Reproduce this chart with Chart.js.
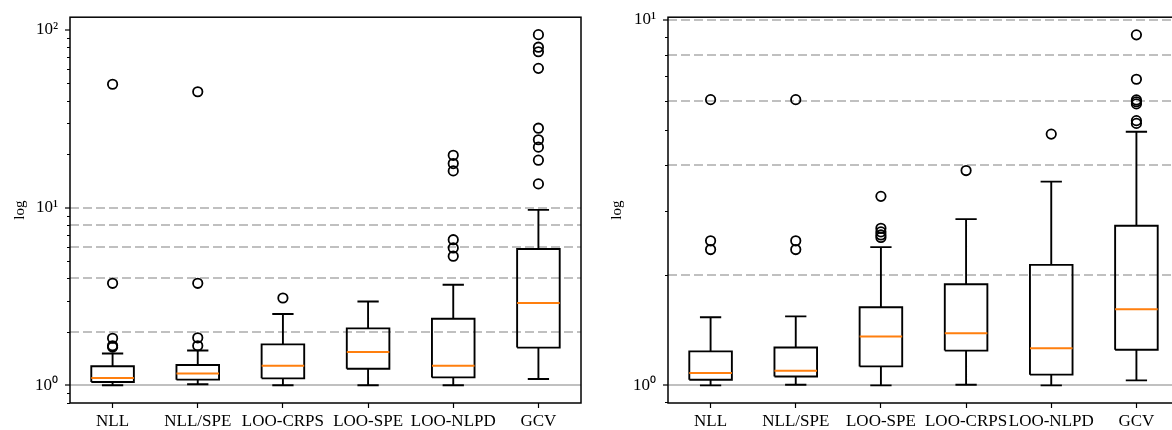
<!DOCTYPE html>
<html>
<head>
<meta charset="utf-8">
<script src="https://cdn.jsdelivr.net/npm/chart.js@4.4.0/dist/chart.umd.min.js"></script>
<style>
    html, body {
        margin: 0;
        padding: 0;
        background: #fff;
        overflow: hidden;
        width: 1172px;
        height: 430px;
    }
    #leftChart { position: absolute; left: 0; top: 0; }
    #rightChart { position: absolute; left: 590px; top: 0; }
</style>
</head>
<body>
<canvas id="leftChart" width="590" height="430"></canvas>
<canvas id="rightChart" width="600" height="430"></canvas>
<script>

// LEFT PANEL
const LEFT_CATEGORIES = ["NLL", "NLL/SPE", "LOO-CRPS", "LOO-SPE", "LOO-NLPD", "GCV"]
const LEFT_WHISKER_LOW = [1.0, 1.013, 1.0, 1.0, 1.0, 1.085]
const LEFT_Q1 = [1.044, 1.076, 1.094, 1.239, 1.108, 1.63]
const LEFT_MEDIAN = [1.10, 1.167, 1.29, 1.54, 1.29, 2.91]
const LEFT_Q3 = [1.28, 1.30, 1.70, 2.09, 2.37, 5.85]
const LEFT_WHISKER_HIGH = [1.51, 1.57, 2.52, 2.96, 3.68, 9.71]
const LEFT_OUTLIERS = [
    [49.5, 3.75, 1.84, 1.67, 1.64],
    [44.9, 3.75, 1.85, 1.67],
    [3.10],
    [],
    [19.7, 17.7, 16.1, 6.60, 5.93, 5.33],
    [94.1, 80.0, 75.4, 60.8, 28.0, 24.1, 21.9, 18.5, 13.6]
]
const LEFT_Y_RANGE = [0.795, 118]
const LEFT_Y_TICKS = [0.8, 0.9, 1, 2, 3, 4, 5, 6, 7, 8, 9, 10, 20, 30, 40, 50, 60, 70, 80, 90, 100]

// RIGHT PANEL
const RIGHT_CATEGORIES = ["NLL", "NLL/SPE", "LOO-SPE", "LOO-CRPS", "LOO-NLPD", "GCV"]
const RIGHT_WHISKER_LOW = [1.0, 1.004, 1.0, 1.004, 1.0, 1.032]
const RIGHT_Q1 = [1.036, 1.058, 1.127, 1.245, 1.07, 1.252]
const RIGHT_MEDIAN = [1.081, 1.097, 1.36, 1.388, 1.263, 1.615]
const RIGHT_Q3 = [1.239, 1.27, 1.636, 1.891, 2.136, 2.733]
const RIGHT_WHISKER_HIGH = [1.536, 1.545, 2.39, 2.85, 3.61, 4.94]
const RIGHT_OUTLIERS = [
    [6.05, 2.486, 2.353],
    [6.05, 2.486, 2.353],
    [3.29, 2.69, 2.63, 2.58, 2.54],
    [3.87],
    [4.87],
    [9.10, 6.88, 6.04, 5.97, 5.89, 5.30, 5.21]
]
const RIGHT_Y_RANGE = [0.895, 10.17]
const RIGHT_Y_TICKS = [0.9, 1, 2, 3, 4, 5, 6, 7, 8, 9, 10]

// reference lines (both panels)
const DASHED_LINES = [2, 4, 6, 8, 10]
const SOLID_LINE = 1

const BOX_WIDTH = 0.5
const FONT = "'Liberation Serif', 'Times New Roman', serif"
const SUPERSCRIPTS = { "-1": "⁻¹", "0": "⁰", "1": "¹", "2": "²", "3": "³" }

function isDecade(value) {
    const l = Math.log10(value)
    return Math.abs(l - Math.round(l)) < 1e-9
}

function buildBoxData(q1, median, q3, low, high) {

    const half = BOX_WIDTH / 2
    const cap = BOX_WIDTH / 4

    const boxes = []
    const whiskers = []
    const medians = []

    q1.forEach((_, i) => {
        const x = i + 1

        boxes.push(
            { x: x - half, y: q1[i] },
            { x: x + half, y: q1[i] },
            { x: x + half, y: q3[i] },
            { x: x - half, y: q3[i] },
            { x: x - half, y: q1[i] },
            { x: x, y: null }
        )

        whiskers.push(
            { x: x, y: q1[i] }, { x: x, y: low[i] }, { x: x, y: null },
            { x: x, y: q3[i] }, { x: x, y: high[i] }, { x: x, y: null },
            { x: x - cap, y: low[i] }, { x: x + cap, y: low[i] }, { x: x, y: null },
            { x: x - cap, y: high[i] }, { x: x + cap, y: high[i] }, { x: x, y: null }
        )

        medians.push(
            { x: x - half, y: median[i] },
            { x: x + half, y: median[i] },
            { x: x, y: null }
        )
    })

    return { boxes, whiskers, medians }
}

const framePlugin = {
    id: "frame",
    afterDraw(chart) {
        const { ctx, chartArea } = chart
        const yScale = chart.scales.y

        ctx.save()

        // minor ticks
        ctx.strokeStyle = "#000"
        ctx.lineWidth = 1
        yScale.ticks.forEach(t => {
            if (isDecade(t.value)) return
            const py = Math.round(yScale.getPixelForValue(t.value)) + 0.5
            ctx.beginPath()
            ctx.moveTo(chartArea.left - 3, py)
            ctx.lineTo(chartArea.left, py)
            ctx.stroke()
        })

        // spines
        ctx.lineWidth = 1.5
        ctx.strokeRect(
            chartArea.left,
            chartArea.top,
            chartArea.right - chartArea.left,
            chartArea.bottom - chartArea.top
        )
        ctx.restore()
    }
}

function createBoxChart(canvasId, panel) {

    const data = buildBoxData(
        panel.q1, panel.median, panel.q3, panel.low, panel.high
    )

    const outlierPoints = []
    panel.outliers.forEach((list, i) => {
        list.forEach(v => outlierPoints.push({ x: i + 1, y: v }))
    })

    const lineStyle = {
        showLine: true,
        pointRadius: 0,
        pointHoverRadius: 0,
        borderColor: "#000",
        borderWidth: 1.9,
        fill: false,
        tension: 0
    }

    return new Chart(
        document.getElementById(canvasId),
        {
            type: "scatter",

            data: {
                datasets: [
                    {
                        ...lineStyle,
                        label: "median",
                        data: data.medians,
                        borderColor: "#ff7f0e",
                        borderWidth: 2
                    },
                    {
                        label: "outliers",
                        data: outlierPoints,
                        pointStyle: "circle",
                        pointRadius: 4.7,
                        pointBorderWidth: 1.8,
                        pointBackgroundColor: "rgba(0,0,0,0)",
                        pointBorderColor: "#000",
                        showLine: false
                    },
                    {
                        ...lineStyle,
                        label: "box",
                        data: data.boxes,
                        borderJoinStyle: "miter"
                    },
                    {
                        ...lineStyle,
                        label: "whiskers",
                        data: data.whiskers
                    }
                ]
            },

            options: {
                responsive: false,
                animation: false,
                events: [],
                layout: {
                    padding: panel.padding
                },
                plugins: {
                    legend: { display: false },
                    tooltip: { enabled: false }
                },
                scales: {
                    x: {
                        type: "linear",
                        min: 0.5,
                        max: panel.categories.length + 0.5,
                        afterBuildTicks: scale => {
                            scale.ticks = panel.categories.map((_, i) => ({ value: i + 1 }))
                        },
                        afterFit: scale => {
                            scale.height = 27
                        },
                        ticks: {
                            autoSkip: false,
                            maxRotation: 0,
                            minRotation: 0,
                            padding: 3,
                            color: "#000",
                            font: { family: FONT, size: 17 },
                            callback: value => panel.categories[value - 1] || ""
                        },
                        grid: {
                            drawOnChartArea: false,
                            tickLength: 5,
                            tickColor: "#000",
                            tickWidth: 1.2
                        },
                        border: { display: false }
                    },
                    y: {
                        type: "logarithmic",
                        min: panel.yRange[0],
                        max: panel.yRange[1],
                        afterBuildTicks: scale => {
                            scale.ticks = panel.yTicks.map(v => ({ value: v }))
                        },
                        afterFit: scale => {
                            scale.width = panel.axisWidth
                        },
                        title: {
                            display: true,
                            text: "log",
                            color: "#000",
                            font: { family: FONT, size: 15 },
                            padding: 0
                        },
                        ticks: {
                            autoSkip: false,
                            padding: 7,
                            color: "#000",
                            font: { family: FONT, size: 17 },
                            callback: value => {
                                if (!isDecade(value)) return ""
                                const e = String(Math.round(Math.log10(value)))
                                return "10" + SUPERSCRIPTS[e]
                            }
                        },
                        grid: {
                            lineWidth: 2,
                            color: ctx => {
                                const v = ctx.tick ? ctx.tick.value : null
                                if (v === SOLID_LINE || DASHED_LINES.includes(v)) {
                                    return "#c0c0c0"
                                }
                                return "rgba(0,0,0,0)"
                            },
                            tickLength: 5,
                            tickWidth: 1.2,
                            tickColor: ctx => {
                                const v = ctx.tick ? ctx.tick.value : null
                                return v !== null && isDecade(v) ? "#000" : "rgba(0,0,0,0)"
                            }
                        },
                        border: {
                            display: false,
                            dash: ctx => {
                                const v = ctx.tick ? ctx.tick.value : null
                                return DASHED_LINES.includes(v) ? [9, 4] : []
                            }
                        }
                    }
                }
            },

            plugins: [framePlugin]
        }
    )
}

createBoxChart("leftChart", {
    categories: LEFT_CATEGORIES,
    low: LEFT_WHISKER_LOW,
    q1: LEFT_Q1,
    median: LEFT_MEDIAN,
    q3: LEFT_Q3,
    high: LEFT_WHISKER_HIGH,
    outliers: LEFT_OUTLIERS,
    yRange: LEFT_Y_RANGE,
    yTicks: LEFT_Y_TICKS,
    axisWidth: 59,
    padding: { left: 11, top: 14, right: 9, bottom: 0 }
})

createBoxChart("rightChart", {
    categories: RIGHT_CATEGORIES,
    low: RIGHT_WHISKER_LOW,
    q1: RIGHT_Q1,
    median: RIGHT_MEDIAN,
    q3: RIGHT_Q3,
    high: RIGHT_WHISKER_HIGH,
    outliers: RIGHT_OUTLIERS,
    yRange: RIGHT_Y_RANGE,
    yTicks: RIGHT_Y_TICKS,
    axisWidth: 60,
    padding: { left: 18, top: 17, right: 11, bottom: 0 }
})

</script>
</body>
</html>
